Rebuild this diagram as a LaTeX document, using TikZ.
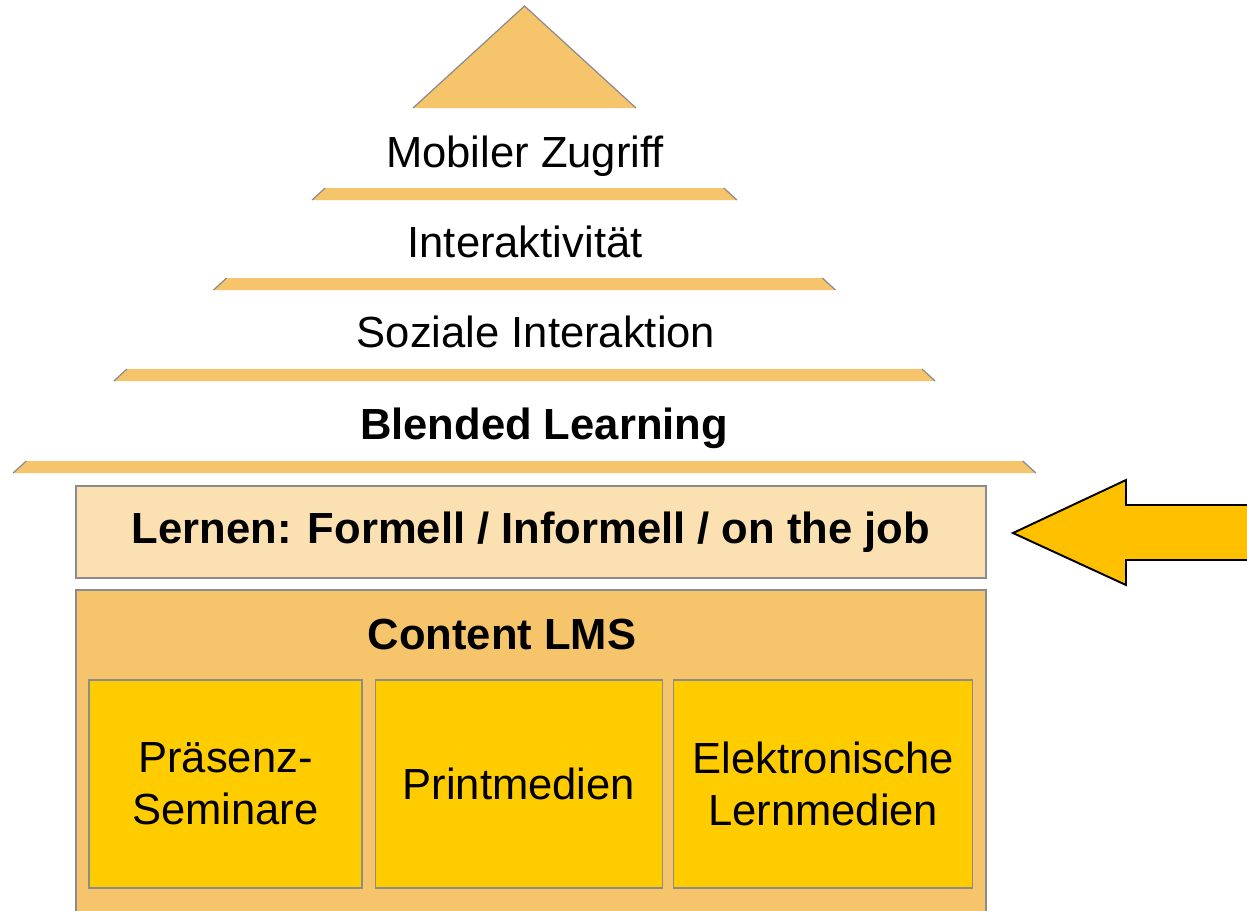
\documentclass[tikz,border=0pt]{standalone}
\usepackage{fontspec}
\setmainfont{Liberation Sans}
\usetikzlibrary{positioning}

\definecolor{pyrorange}{RGB}{246,196,106}
\definecolor{lernfill}{RGB}{251,224,178}
\definecolor{boxgold}{RGB}{255,204,0}
\definecolor{arrowgold}{RGB}{255,192,0}
\definecolor{edgegray}{RGB}{140,140,140}

\begin{document}
\begin{tikzpicture}[x=0.02cm,y=-0.02cm,
  layer text/.style={font=\fontsize{24.8}{30}\selectfont, anchor=base, inner sep=0pt},
  bar box/.style={draw=edgegray, line width=0.8pt, minimum width=18.2cm, inner sep=0pt},
  media box/.style={draw=edgegray, line width=0.8pt, fill=boxgold, align=center,
    minimum height=4.16cm, inner sep=0pt, font=\fontsize{24.8}{29.6}\selectfont}]

  \useasboundingbox (0,0) rectangle (1247,910);
  \clip (0,0) rectangle (1247,910);

  % pyramid top and layer bars
  \fill[pyrorange] (524.5,6) -- (636,108) -- (413,108) -- cycle;
  \draw[edgegray, line width=0.7pt] (413,108) -- (524.5,6) -- (636,108);
  \foreach \yb in {200,290,381,473}{
    \pgfmathsetmacro{\hb}{1.095*(\yb-6)}
    \pgfmathsetmacro{\ht}{1.095*(\yb-18)}
    \fill[pyrorange] (524.5-\hb,\yb) -- (524.5-\ht,\yb-12) -- (524.5+\ht,\yb-12) -- (524.5+\hb,\yb) -- cycle;
    \draw[edgegray, line width=0.7pt] (524.5-\hb,\yb) -- (524.5-\ht,\yb-12);
    \draw[edgegray, line width=0.7pt] (524.5+\hb,\yb) -- (524.5+\ht,\yb-12);
  }

  \node[layer text] (mobil) at (525,167) {Mobiler Zugriff};
  \node[layer text] (interakt) at (525,257) {Interaktivität};
  \node[layer text] (sozial) at (536,347) {Soziale Interaktion};
  \node[layer text, font=\fontsize{24.8}{30}\selectfont\bfseries] (blended) at (544,439) {Blended Learning};

  % learning and content
  \node[bar box, fill=lernfill, minimum height=1.84cm, font=\fontsize{24.8}{30}\selectfont\bfseries] (lernen) at (531,532) {Lernen: Formell / Informell / on the job};
  \draw[edgegray, line width=0.8pt, fill=pyrorange] (76,590) rectangle (986,930);
  \node[layer text, font=\fontsize{24.8}{30}\selectfont\bfseries] (content) at (502,649) {Content LMS};

  \node[media box, minimum width=5.46cm] (praesenz) at (225.5,784) {Präsenz-\\Seminare};
  \node[media box, minimum width=5.74cm, right=0.24cm of praesenz] (print) {Printmedien};
  \node[media box, minimum width=5.98cm, right=0.2cm of print] (elektro) {Elektronische\\Lernmedien};

  % arrow pointing at the learning bar
  \draw[fill=arrowgold, line width=1.1pt, line join=miter]
    (1013,533) -- (1126,480) -- (1126,505) -- (1270,505) -- (1270,560) -- (1126,560) -- (1126,585) -- cycle;

\end{tikzpicture}
\end{document}
